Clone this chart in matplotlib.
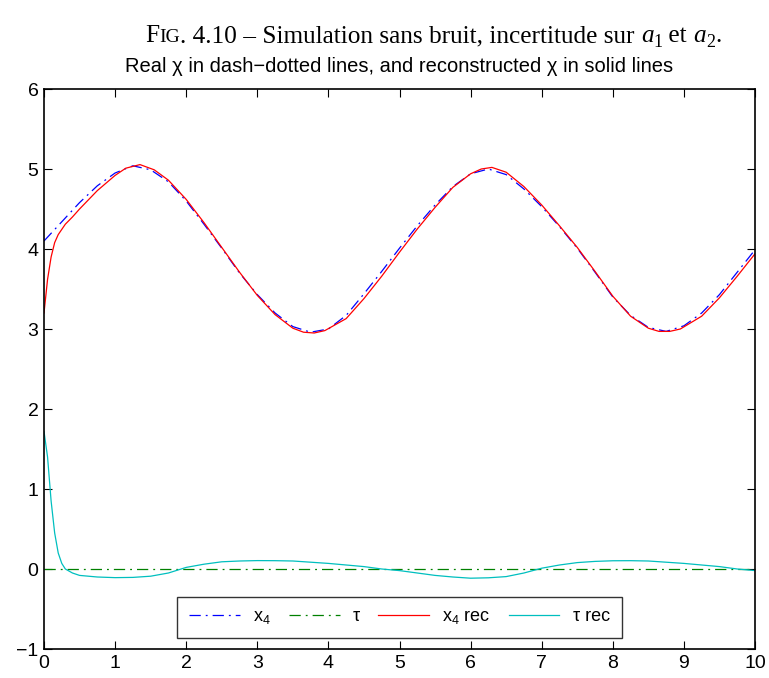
import matplotlib
matplotlib.use("Agg")
import matplotlib.pyplot as plt

plt.rcParams['font.family'] = ['Liberation Sans', 'DejaVu Sans']
plt.rcParams['mathtext.fontset'] = 'custom'
plt.rcParams['mathtext.rm'] = 'Liberation Sans'
plt.rcParams['mathtext.it'] = 'Liberation Sans'
plt.rcParams['mathtext.default'] = 'regular'

# ---- data ----
t_x4 = [0, 0.25, 0.5, 0.75, 1.0, 1.25, 1.5, 1.75, 2.0, 2.25, 2.5, 2.75, 3.0, 3.25,
        3.5, 3.75, 4.0, 4.25, 4.5, 4.75, 5.0, 5.25, 5.5, 5.75, 6.0, 6.25, 6.5, 6.75,
        7.0, 7.25, 7.5, 7.75, 8.0, 8.25, 8.5, 8.75, 9.0, 9.25, 9.5, 9.75, 10.0]
x4_real = [4.10, 4.34, 4.58, 4.79, 4.95, 5.04, 4.99, 4.84, 4.60, 4.31, 4.01, 3.70,
           3.43, 3.20, 3.03, 2.96, 3.00, 3.17, 3.44, 3.72, 4.01, 4.29, 4.55, 4.78,
           4.94, 5.00, 4.93, 4.75, 4.53, 4.28, 4.01, 3.71, 3.40, 3.17, 3.02, 2.97,
           3.04, 3.20, 3.43, 3.71, 3.99]

t_x4rec = [0, 0.05, 0.1, 0.15, 0.2, 0.3, 0.4, 0.5, 0.75, 1.0, 1.15, 1.35, 1.55, 1.75,
           2.0, 2.25, 2.5, 2.75, 3.0, 3.25, 3.5, 3.65, 3.8, 3.95, 4.25, 4.5, 4.75,
           5.0, 5.25, 5.5, 5.75, 6.0, 6.15, 6.3, 6.5, 6.75, 7.0, 7.25, 7.5, 7.75, 8.0,
           8.25, 8.5, 8.65, 8.8, 8.95, 9.25, 9.5, 9.75, 10.0]
x4_rec = [3.20, 3.62, 3.90, 4.08, 4.18, 4.31, 4.40, 4.50, 4.73, 4.92, 5.01, 5.055,
          4.99, 4.86, 4.62, 4.33, 4.02, 3.71, 3.42, 3.18, 3.01, 2.96, 2.95, 2.98,
          3.13, 3.38, 3.66, 3.96, 4.25, 4.52, 4.77, 4.94, 5.00, 5.02, 4.96, 4.78,
          4.55, 4.29, 4.02, 3.72, 3.41, 3.16, 3.01, 2.97, 2.97, 3.00, 3.16, 3.39,
          3.66, 3.94]

t_tau = [0, 10]
tau_real = [0, 0]

t_taurec = [0, 0.05, 0.1, 0.15, 0.2, 0.25, 0.3, 0.4, 0.5, 0.75, 1.0, 1.25, 1.5,
            1.75, 2.0, 2.25, 2.5, 2.75, 3.0, 3.25, 3.5, 3.75, 4.0, 4.25, 4.5, 4.75,
            5.0, 5.25, 5.5, 5.75, 6.0, 6.25, 6.5, 6.75, 7.0, 7.25, 7.5, 7.75, 8.0,
            8.25, 8.5, 8.75, 9.0, 9.25, 9.5, 9.75, 10.0]
tau_rec = [1.72, 1.40, 0.85, 0.45, 0.20, 0.07, 0.00, -0.05, -0.08, -0.10, -0.108,
           -0.105, -0.09, -0.05, 0.02, 0.06, 0.09, 0.10, 0.105, 0.104, 0.10, 0.085,
           0.07, 0.05, 0.03, 0.00, -0.02, -0.05, -0.08, -0.10, -0.115, -0.11, -0.095,
           -0.05, 0.01, 0.05, 0.08, 0.095, 0.103, 0.104, 0.10, 0.085, 0.07, 0.05,
           0.03, 0.00, -0.02]

labels = ['x$_4$', 'τ', 'x$_4$ rec', 'τ rec']
x_ticks = list(range(0, 11))
y_ticks = list(range(-1, 7))
title = 'Real χ in dash−dotted lines, and reconstructed χ in solid lines'

# ---- figure ----
W, H = 769, 678
fig = plt.figure(figsize=(W / 100, H / 100), dpi=100)
ax = fig.add_axes([44 / W, 1 - 649 / H, 711 / W, 560 / H])

dashdot = (0, (9, 4, 1.5, 4))
ax.plot(t_x4, x4_real, color='#0000ff', ls=dashdot, lw=0.9, label=labels[0])
ax.plot(t_tau, tau_real, color='#008000', ls=dashdot, lw=0.9, label=labels[1])
ax.plot(t_x4rec, x4_rec, color='#ff0000', lw=0.9, label=labels[2])
ax.plot(t_taurec, tau_rec, color='#00bfbf', lw=0.9, label=labels[3])

ax.set_xlim(0, 10)
ax.set_ylim(-1, 6)
ax.set_xticks(x_ticks)
ax.set_yticks(y_ticks)
ax.set_yticklabels(['−1' if v < 0 else str(v) for v in y_ticks])
ax.tick_params(direction='in', length=6, width=0.8, top=True, right=True,
               labelsize=14, pad=4)
for s in ax.spines.values():
    s.set_linewidth(1.2)

ax.set_title(title, fontsize=14.5, pad=12)

leg = ax.legend(loc='lower center', bbox_to_anchor=(0.5, 11 / 560), ncol=4,
                fontsize=13, frameon=True, fancybox=False, edgecolor='black',
                handlelength=2.8, columnspacing=1.0, handletextpad=0.75,
                borderpad=0.65, borderaxespad=0)
leg.get_frame().set_linewidth(1.0)

# ---- caption with small caps and italic math ----
pieces = [("F", 18.2, 'normal', 0), ("IG", 14, 'normal', 0),
          (". 4.10 – Simulation sans bruit, incertitude sur ", 18.2, 'normal', 0),
          ("a", 18.2, 'italic', 0), ("1", 13, 'normal', -5), (" et ", 18.2, 'normal', 0),
          ("a", 18.2, 'italic', 0), ("2", 13, 'normal', -5), (".", 18.2, 'normal', 0)]
fig.canvas.draw()
r = fig.canvas.get_renderer()
objs = []
for txt, fs, st, dy in pieces:
    o = fig.text(0, 0, txt, fontsize=fs, fontstyle=st,
                 family=['Liberation Serif', 'DejaVu Serif'], va='baseline', ha='left')
    objs.append((o, dy))
widths = [o.get_window_extent(r).width for o, _ in objs]
x = 145
base = H - 42
for (o, dy), w in zip(objs, widths):
    o.set_position((x / W, (base + dy) / H))
    x += w

fig.savefig('out.png', dpi=100)
